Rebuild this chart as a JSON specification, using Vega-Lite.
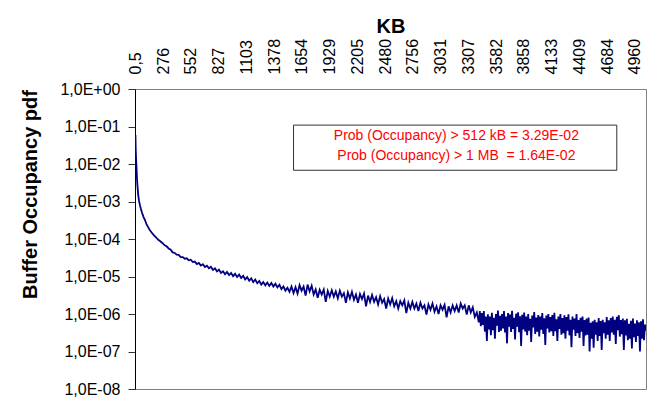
{
  "$schema": "https://vega.github.io/schema/vega-lite/v6.json",
  "width": 511,
  "height": 300,
  "autosize": {"type": "none"},
  "padding": {"left": 135, "top": 89, "right": 10, "bottom": 19},
  "background": "white",
  "config": {
    "font": "Liberation Sans",
    "view": {"stroke": "#808080", "strokeWidth": 1},
    "axis": {"labelFont": "Liberation Sans", "titleFont": "Liberation Sans", "grid": false, "labelColor": "#000000", "titleColor": "#000000", "labelOverlap": false, "labelSeparation": 0}
  },
  "layer": [
    {
      "data": {"values": [
        {"kb":0.5,"pdf":5.9e-2},{"kb":3,"pdf":2.5e-2},{"kb":6,"pdf":1.5e-2},{"kb":10,"pdf":9.3e-3},{"kb":15,"pdf":4.5e-3},{"kb":20,"pdf":2.7e-3},{"kb":27,"pdf":1.6e-3},{"kb":35,"pdf":1.07e-3},{"kb":45,"pdf":8.0e-4},{"kb":55,"pdf":6.3e-4},{"kb":65,"pdf":5.1e-4},{"kb":80,"pdf":3.9e-4},{"kb":95,"pdf":3.2e-4},{"kb":110,"pdf":2.5e-4},{"kb":125,"pdf":2.1e-4},{"kb":144,"pdf":1.7e-4},{"kb":165,"pdf":1.45e-4},{"kb":185,"pdf":1.25e-4},{"kb":205,"pdf":1.1e-4},{"kb":230,"pdf":9.4e-5},{"kb":250,"pdf":8.6e-5},{"kb":273,"pdf":7.6e-5},{"kb":290,"pdf":6.8e-5},
        {"kb":310,"pdf":6.4e-5},{"kb":330,"pdf":5.6e-5},{"kb":350,"pdf":5.2e-5},{"kb":370,"pdf":4.4e-5},{"kb":390,"pdf":4.25e-5},{"kb":410,"pdf":3.8e-5},{"kb":430,"pdf":3.75e-5},{"kb":450,"pdf":3.3e-5},{"kb":470,"pdf":3.3e-5},{"kb":490,"pdf":2.98e-5},{"kb":510,"pdf":3.05e-5},{"kb":530,"pdf":2.7e-5},{"kb":550,"pdf":2.8e-5},{"kb":570,"pdf":2.42e-5},{"kb":590,"pdf":2.5e-5},{"kb":610,"pdf":2.15e-5},{"kb":630,"pdf":2.3e-5},{"kb":650,"pdf":1.95e-5},{"kb":670,"pdf":2.12e-5},{"kb":690,"pdf":1.8e-5},{"kb":710,"pdf":1.95e-5},{"kb":730,"pdf":1.66e-5},{"kb":750,"pdf":1.82e-5},{"kb":770,"pdf":1.5e-5},{"kb":790,"pdf":1.65e-5},{"kb":810,"pdf":1.37e-5},{"kb":830,"pdf":1.52e-5},{"kb":850,"pdf":1.24e-5},{"kb":870,"pdf":1.38e-5},{"kb":890,"pdf":1.15e-5},{"kb":910,"pdf":1.32e-5},{"kb":930,"pdf":1.09e-5},{"kb":950,"pdf":1.24e-5},{"kb":970,"pdf":1.02e-5},{"kb":990,"pdf":1.18e-5},{"kb":1010,"pdf":9.7e-6},{"kb":1030,"pdf":1.12e-5},{"kb":1050,"pdf":9.1e-6},{"kb":1070,"pdf":1.04e-5},{"kb":1090,"pdf":8.3e-6},{"kb":1110,"pdf":9.6e-6},{"kb":1130,"pdf":7.7e-6},{"kb":1150,"pdf":8.9e-6},{"kb":1170,"pdf":7.1e-6},{"kb":1190,"pdf":8.3e-6},{"kb":1210,"pdf":6.6e-6},{"kb":1230,"pdf":7.6e-6},{"kb":1250,"pdf":6.1e-6},{"kb":1270,"pdf":7.1e-6},{"kb":1290,"pdf":5.8e-6},{"kb":1310,"pdf":6.9e-6},{"kb":1330,"pdf":5.6e-6},{"kb":1350,"pdf":6.7e-6},{"kb":1370,"pdf":5.4e-6},{"kb":1390,"pdf":6.4e-6},{"kb":1410,"pdf":5.1e-6},{"kb":1430,"pdf":6.0e-6},{"kb":1450,"pdf":4.6e-6},{"kb":1470,"pdf":5.4e-6},{"kb":1490,"pdf":4.2e-6},{"kb":1510,"pdf":5.0e-6},{"kb":1530,"pdf":3.9e-6},
        {"kb":1550,"pdf":5.4e-6},{"kb":1570,"pdf":3.6e-6},{"kb":1590,"pdf":5.2e-6},{"kb":1610,"pdf":3.5e-6},{"kb":1630,"pdf":5.9e-6},{"kb":1650,"pdf":4.2e-6},{"kb":1670,"pdf":5.4e-6},{"kb":1690,"pdf":3.1e-6},{"kb":1710,"pdf":6.1e-6},{"kb":1730,"pdf":4.0e-6},{"kb":1750,"pdf":5.7e-6},{"kb":1770,"pdf":3.3e-6},{"kb":1790,"pdf":4.5e-6},{"kb":1810,"pdf":2.7e-6},{"kb":1830,"pdf":4.4e-6},{"kb":1850,"pdf":3.3e-6},{"kb":1870,"pdf":4.5e-6},{"kb":1890,"pdf":2.1e-6},{"kb":1910,"pdf":4.1e-6},{"kb":1930,"pdf":2.9e-6},{"kb":1950,"pdf":4.3e-6},{"kb":1970,"pdf":2.9e-6},{"kb":1990,"pdf":4.0e-6},{"kb":2010,"pdf":2.6e-6},{"kb":2030,"pdf":4.2e-6},{"kb":2050,"pdf":2.9e-6},{"kb":2070,"pdf":3.6e-6},{"kb":2090,"pdf":2.0e-6},{"kb":2110,"pdf":3.8e-6},{"kb":2130,"pdf":2.6e-6},{"kb":2150,"pdf":3.9e-6},{"kb":2170,"pdf":2.4e-6},{"kb":2190,"pdf":3.3e-6},{"kb":2210,"pdf":2.0e-6},{"kb":2230,"pdf":3.4e-6},{"kb":2250,"pdf":2.5e-6},{"kb":2270,"pdf":3.5e-6},{"kb":2290,"pdf":1.6e-6},{"kb":2310,"pdf":3.1e-6},{"kb":2330,"pdf":2.1e-6},{"kb":2350,"pdf":3.2e-6},{"kb":2370,"pdf":2.1e-6},{"kb":2390,"pdf":2.8e-6},{"kb":2410,"pdf":1.8e-6},{"kb":2430,"pdf":3.0e-6},{"kb":2450,"pdf":2.0e-6},{"kb":2470,"pdf":2.5e-6},{"kb":2490,"pdf":1.4e-6},{"kb":2510,"pdf":2.6e-6},{"kb":2530,"pdf":1.8e-6},{"kb":2550,"pdf":2.65e-6},{"kb":2570,"pdf":1.6e-6},{"kb":2590,"pdf":2.2e-6},{"kb":2610,"pdf":1.4e-6},{"kb":2630,"pdf":2.2e-6},{"kb":2650,"pdf":1.7e-6},{"kb":2670,"pdf":2.3e-6},{"kb":2690,"pdf":1.05e-6},{"kb":2710,"pdf":2.0e-6},{"kb":2730,"pdf":1.4e-6},{"kb":2750,"pdf":2.1e-6},{"kb":2770,"pdf":1.4e-6},{"kb":2790,"pdf":1.9e-6},{"kb":2810,"pdf":1.2e-6},{"kb":2830,"pdf":2.0e-6},{"kb":2850,"pdf":1.4e-6},{"kb":2870,"pdf":1.7e-6},{"kb":2890,"pdf":9.6e-7},{"kb":2910,"pdf":1.8e-6},{"kb":2930,"pdf":1.3e-6},{"kb":2950,"pdf":1.9e-6},{"kb":2970,"pdf":1.15e-6},{"kb":2990,"pdf":1.6e-6},{"kb":3010,"pdf":1.0e-6},{"kb":3030,"pdf":1.7e-6},{"kb":3050,"pdf":1.3e-6},{"kb":3070,"pdf":1.75e-6},{"kb":3090,"pdf":8.1e-7},{"kb":3110,"pdf":1.6e-6},{"kb":3130,"pdf":1.1e-6},{"kb":3150,"pdf":1.7e-6},{"kb":3170,"pdf":1.2e-6},{"kb":3190,"pdf":1.7e-6},{"kb":3210,"pdf":1.1e-6},{"kb":3230,"pdf":1.9e-6},{"kb":3250,"pdf":1.4e-6},{"kb":3270,"pdf":1.7e-6},{"kb":3290,"pdf":9.6e-7},{"kb":3310,"pdf":1.7e-6},{"kb":3330,"pdf":1.1e-6},{"kb":3350,"pdf":1.5e-6},{"kb":3370,"pdf":8.4e-7},{"kb":3390,"pdf":1.1e-6},{"kb":3410,"pdf":6.0e-7},
        {"kb":3420,"pdf":1.2e-6},{"kb":3430,"pdf":4.7e-7},{"kb":3440,"pdf":1.06e-6},{"kb":3450,"pdf":5.1e-7},{"kb":3460,"pdf":1.19e-6},{"kb":3470,"pdf":3.4e-7},{"kb":3480,"pdf":8.5e-7},{"kb":3490,"pdf":1.9e-7},{"kb":3500,"pdf":9.8e-7},{"kb":3510,"pdf":3.9e-7},{"kb":3520,"pdf":8.6e-7},{"kb":3530,"pdf":2.7e-7},{"kb":3540,"pdf":1.07e-6},{"kb":3550,"pdf":3.7e-7},{"kb":3560,"pdf":7.9e-7},{"kb":3570,"pdf":2.2e-7},{"kb":3580,"pdf":1.0e-6},{"kb":3590,"pdf":4.9e-7},{"kb":3600,"pdf":1.24e-6},{"kb":3610,"pdf":3.3e-7},{"kb":3620,"pdf":8.9e-7},{"kb":3630,"pdf":3.6e-7},{"kb":3640,"pdf":9.9e-7},{"kb":3650,"pdf":4.1e-7},{"kb":3660,"pdf":1.19e-6},{"kb":3670,"pdf":3.2e-7},{"kb":3680,"pdf":8.6e-7},{"kb":3690,"pdf":1.65e-7},{"kb":3700,"pdf":1.06e-6},{"kb":3710,"pdf":4.6e-7},{"kb":3720,"pdf":9.6e-7},{"kb":3730,"pdf":3.3e-7},{"kb":3740,"pdf":1.22e-6},{"kb":3750,"pdf":4.0e-7},{"kb":3760,"pdf":7.9e-7},{"kb":3770,"pdf":2.1e-7},{"kb":3780,"pdf":1.02e-6},{"kb":3790,"pdf":4.6e-7},{"kb":3800,"pdf":1.11e-6},{"kb":3810,"pdf":3.25e-7},{"kb":3820,"pdf":8.7e-7},{"kb":3830,"pdf":1.4e-7},{"kb":3840,"pdf":9.5e-7},{"kb":3850,"pdf":3.9e-7},{"kb":3860,"pdf":1.09e-6},{"kb":3870,"pdf":3.4e-7},{"kb":3880,"pdf":8.6e-7},{"kb":3890,"pdf":2.7e-7},{"kb":3900,"pdf":1.0e-6},{"kb":3910,"pdf":3.6e-7},{"kb":3920,"pdf":7.4e-7},{"kb":3930,"pdf":1.8e-7},{"kb":3940,"pdf":9.1e-7},{"kb":3950,"pdf":4.4e-7},{"kb":3960,"pdf":1.12e-6},{"kb":3970,"pdf":2.95e-7},{"kb":3980,"pdf":8.0e-7},{"kb":3990,"pdf":3.4e-7},{"kb":4000,"pdf":9.4e-7},{"kb":4010,"pdf":2.5e-7},{"kb":4020,"pdf":8.6e-7},{"kb":4030,"pdf":3.8e-7},{"kb":4040,"pdf":1.06e-6},{"kb":4050,"pdf":2.95e-7},{"kb":4060,"pdf":7.7e-7},{"kb":4070,"pdf":1.5e-7},{"kb":4080,"pdf":9.1e-7},{"kb":4090,"pdf":4.1e-7},{"kb":4100,"pdf":1.0e-6},{"kb":4110,"pdf":3.2e-7},{"kb":4120,"pdf":8.3e-7},{"kb":4130,"pdf":3.5e-7},{"kb":4140,"pdf":9.4e-7},{"kb":4150,"pdf":2.6e-7},{"kb":4160,"pdf":1.07e-6},{"kb":4170,"pdf":3.5e-7},{"kb":4180,"pdf":7.2e-7},{"kb":4190,"pdf":1.9e-7},{"kb":4200,"pdf":8.6e-7},{"kb":4210,"pdf":4.0e-7},{"kb":4220,"pdf":9.9e-7},{"kb":4230,"pdf":2.8e-7},{"kb":4240,"pdf":7.8e-7},{"kb":4250,"pdf":3.1e-7},{"kb":4260,"pdf":9.2e-7},{"kb":4270,"pdf":2.2e-7},{"kb":4280,"pdf":8.3e-7},{"kb":4290,"pdf":3.6e-7},{"kb":4300,"pdf":9.8e-7},{"kb":4310,"pdf":2.7e-7},{"kb":4320,"pdf":7.0e-7},{"kb":4330,"pdf":1.3e-7},{"kb":4340,"pdf":8.5e-7},{"kb":4350,"pdf":3.8e-7},{"kb":4360,"pdf":7.6e-7},{"kb":4370,"pdf":2.6e-7},{"kb":4380,"pdf":9.9e-7},{"kb":4390,"pdf":3.1e-7},{"kb":4400,"pdf":6.9e-7},{"kb":4410,"pdf":2.3e-7},{"kb":4420,"pdf":7.9e-7},{"kb":4430,"pdf":3.4e-7},{"kb":4440,"pdf":8.5e-7},{"kb":4450,"pdf":1.4e-7},{"kb":4460,"pdf":6.9e-7},{"kb":4470,"pdf":2.7e-7},{"kb":4480,"pdf":7.6e-7},{"kb":4490,"pdf":2.8e-7},{"kb":4500,"pdf":8.1e-7},{"kb":4510,"pdf":1.0e-7},{"kb":4520,"pdf":5.8e-7},{"kb":4530,"pdf":2.2e-7},{"kb":4540,"pdf":6.4e-7},{"kb":4550,"pdf":1.26e-7},{"kb":4560,"pdf":7.0e-7},{"kb":4570,"pdf":2.8e-7},{"kb":4580,"pdf":6.0e-7},{"kb":4590,"pdf":1.9e-7},{"kb":4600,"pdf":7.8e-7},{"kb":4610,"pdf":2.6e-7},{"kb":4620,"pdf":6.5e-7},{"kb":4630,"pdf":1.1e-7},{"kb":4640,"pdf":7.0e-7},{"kb":4650,"pdf":3.1e-7},{"kb":4660,"pdf":6.0e-7},{"kb":4670,"pdf":2.2e-7},{"kb":4680,"pdf":8.3e-7},{"kb":4690,"pdf":2.8e-7},{"kb":4700,"pdf":6.8e-7},{"kb":4710,"pdf":1.9e-7},{"kb":4720,"pdf":7.8e-7},{"kb":4730,"pdf":3.2e-7},{"kb":4740,"pdf":8.6e-7},{"kb":4750,"pdf":2.8e-7},{"kb":4760,"pdf":7.0e-7},{"kb":4770,"pdf":1.6e-7},{"kb":4780,"pdf":8.4e-7},{"kb":4790,"pdf":3.7e-7},{"kb":4800,"pdf":9.3e-7},{"kb":4810,"pdf":2.5e-7},{"kb":4820,"pdf":6.9e-7},{"kb":4830,"pdf":2.9e-7},{"kb":4840,"pdf":7.6e-7},{"kb":4850,"pdf":1.1e-7},{"kb":4860,"pdf":6.8e-7},{"kb":4870,"pdf":2.7e-7},{"kb":4880,"pdf":7.5e-7},{"kb":4890,"pdf":2.0e-7},{"kb":4900,"pdf":5.5e-7},{"kb":4910,"pdf":2.2e-7},{"kb":4920,"pdf":6.6e-7},{"kb":4930,"pdf":1.2e-7},{"kb":4940,"pdf":7.6e-7},{"kb":4950,"pdf":2.4e-7},{"kb":4960,"pdf":5.6e-7},{"kb":4970,"pdf":1.8e-7},{"kb":4980,"pdf":6.8e-7},{"kb":4990,"pdf":2.6e-7},{"kb":5000,"pdf":6.0e-7},{"kb":5010,"pdf":1.0e-7},{"kb":5020,"pdf":6.4e-7},{"kb":5030,"pdf":2.2e-7},{"kb":5040,"pdf":7.2e-7},{"kb":5050,"pdf":2.0e-7},{"kb":5060,"pdf":5.2e-7},{"kb":5070,"pdf":3.6e-7}
      ]},
      "mark": {"type": "line", "color": "#000080", "strokeWidth": 1.8, "interpolate": "linear", "clip": true},
      "encoding": {
        "x": {
          "field": "kb", "type": "quantitative",
          "scale": {"domain": [-4, 5070], "nice": false, "zero": false},
          "axis": {
            "orient": "top",
            "values": [0.5, 276, 552, 827, 1103, 1378, 1654, 1929, 2205, 2480, 2756, 3031, 3307, 3582, 3858, 4133, 4409, 4684, 4960],
            "tickCount": 40,
            "labelExpr": "datum.value < 1 ? '0,5' : format(datum.value, 'd')",
            "labelAngle": 270, "labelAlign": "left", "labelBaseline": "middle",
            "labelFontSize": 16, "labelPadding": 15, "labelOverlap": false, "labelSeparation": 0, "labelFlush": false, "labelBound": false,
            "domain": false, "ticks": false,
            "title": "KB", "titleFontSize": 20, "titleFontWeight": "bold",
            "titleBaseline": "alphabetic", "titleAlign": "center", "titleY": -57
          }
        },
        "y": {
          "field": "pdf", "type": "quantitative",
          "scale": {"type": "log", "domain": [1e-8, 1], "nice": false},
          "axis": {
            "orient": "left",
            "values": [1, 0.1, 0.01, 0.001, 0.0001, 0.00001, 0.000001, 1e-7, 1e-8],
            "tickCount": 20,
            "labelExpr": "'1,0E' + (datum.value >= 1 ? '+' : '-') + '0' + abs(round(log(datum.value) / LN10))",
            "labelFontSize": 16, "labelPadding": 8,
            "tickSize": 7, "tickColor": "#333333", "domainColor": "#000000",
            "title": "Buffer Occupancy pdf", "titleFontSize": 20, "titleFontWeight": "bold",
            "titleAngle": 270, "titleAlign": "center", "titleBaseline": "middle",
            "titleX": -105, "titleY": 105
          }
        }
      }
    },
    {
      "data": {"values": [{}]},
      "mark": {"type": "rect", "fill": "white", "stroke": "#333333", "strokeWidth": 1},
      "encoding": {
        "x": {"datum": 1570}, "x2": {"datum": 4780},
        "y": {"datum": 0.109}, "y2": {"datum": 0.0068}
      }
    },
    {
      "data": {"values": [{}]},
      "mark": {"type": "text", "color": "#FF0000", "fontSize": 14, "align": "center", "baseline": "middle"},
      "encoding": {
        "x": {"datum": 3187}, "y": {"datum": 0.0571},
        "text": {"value": "Prob (Occupancy) > 512 kB = 3.29E-02"}
      }
    },
    {
      "data": {"values": [{}]},
      "mark": {"type": "text", "color": "#FF0000", "fontSize": 14, "align": "center", "baseline": "middle"},
      "encoding": {
        "x": {"datum": 3187}, "y": {"datum": 0.01667},
        "text": {"value": "Prob (Occupancy) > 1 MB\u00a0 = 1.64E-02"}
      }
    }
  ]
}
